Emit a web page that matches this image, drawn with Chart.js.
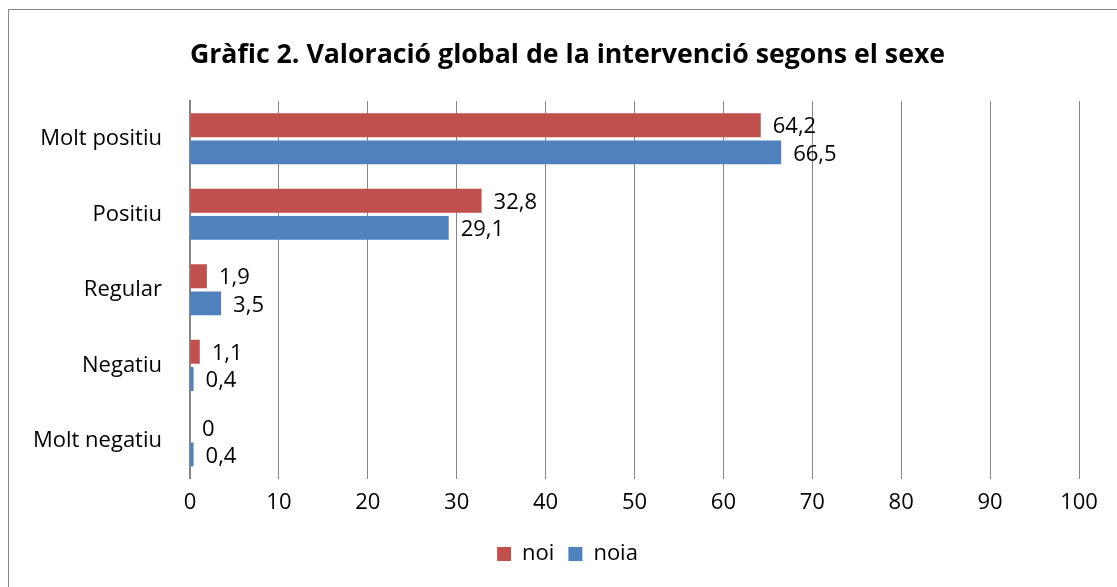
<html lang="ca">
<head>
  <meta charset="UTF-8">
  <title>Gràfic 2</title>
  <script src="https://cdn.jsdelivr.net/npm/chart.js"></script>
  <style>
    body, html {
      margin: 0;
      padding: 0;
      background-color: #ffffff;
      overflow: hidden;
    }
    .frame {
      position: absolute;
      left: 8px;
      top: 9px;
      width: 1200px;
      height: 700px;
      border: 1px solid #868686;
    }
    .chart-container {
      position: absolute;
      left: 0;
      top: 0;
      width: 1117px;
      height: 587px;
    }
  </style>
</head>
<body>
  <div class="frame"></div>
  <div class="chart-container"><canvas id="myChart" width="1117" height="587"></canvas></div>

  <script>
    const categories = ['Molt positiu', 'Positiu', 'Regular', 'Negatiu', 'Molt negatiu'];
    const noiData = [64.2, 32.8, 1.9, 1.1, 0];
    const noiaData = [66.5, 29.1, 3.5, 0.4, 0.4];
    const xTicks = [0, 10, 20, 30, 40, 50, 60, 70, 80, 90, 100];

    const fontFamily = '"Open Sans", "Noto Sans", sans-serif';
    const gridColor = '#868686';

    // value labels to the right of each bar, with a decimal comma
    Chart.register({
      id: 'barValues',
      afterDatasetsDraw(chart) {
        const { ctx } = chart;
        ctx.save();
        ctx.fillStyle = '#000';
        ctx.font = '22px ' + fontFamily;
        ctx.textAlign = 'left';
        ctx.textBaseline = 'middle';
        chart.data.datasets.forEach((dataset, i) => {
          const meta = chart.getDatasetMeta(i);
          meta.data.forEach((bar, j) => {
            const txt = String(dataset.data[j]).replace('.', ',');
            ctx.fillText(txt, bar.x + 12, bar.y + 2);
          });
        });
        ctx.restore();
      }
    });

    // title and legend sit centred on the frame, not on the whole canvas
    Chart.register({
      id: 'shiftBlocks',
      afterLayout(chart) {
        const dx = 28;
        if (chart.titleBlock) {
          chart.titleBlock.left += dx;
          chart.titleBlock.right += dx;
        }
        if (chart.legend) {
          chart.legend.left += dx;
          chart.legend.right += dx;
          chart.legend.top += 2;
          chart.legend.bottom += 2;
        }
      }
    });

    const ctx = document.getElementById('myChart').getContext('2d');
    const myChart = new Chart(ctx, {
      type: 'bar',
      data: {
        labels: categories,
        datasets: [
          {
            label: 'noi',
            data: noiData,
            backgroundColor: '#C0504D',
            borderWidth: 0
          },
          {
            label: 'noia',
            data: noiaData,
            backgroundColor: '#4F81BD',
            borderWidth: 0
          }
        ]
      },
      options: {
        indexAxis: 'y',
        responsive: false,
        animation: false,
        categoryPercentage: 0.72,
        barPercentage: 0.88,
        layout: {
          padding: { left: 0, right: 38, top: 0, bottom: 14 }
        },
        scales: {
          x: {
            min: 0,
            max: 100,
            afterBuildTicks(scale) {
              scale.ticks = xTicks.map(v => ({ value: v }));
            },
            grid: {
              color: gridColor,
              drawTicks: false
            },
            border: { display: false },
            ticks: {
              color: '#000',
              padding: 11,
              font: { family: fontFamily, size: 22 }
            }
          },
          y: {
            afterFit(scale) {
              scale.width = 190;
            },
            grid: { display: false },
            border: { display: true, color: gridColor, width: 2 },
            ticks: {
              color: '#000',
              padding: 20,
              font: { family: fontFamily, size: 22 }
            }
          }
        },
        plugins: {
          title: {
            display: true,
            text: 'Gràfic 2. Valoració global de la intervenció segons el sexe',
            color: '#000',
            font: { family: fontFamily, size: 26.7, weight: 'bold' },
            padding: { top: 39, bottom: 30 }
          },
          legend: {
            display: true,
            position: 'bottom',
            labels: {
              color: '#000',
              boxWidth: 14,
              boxHeight: 14,
              padding: 14,
              font: { family: fontFamily, size: 22 }
            }
          },
          tooltip: { enabled: false }
        }
      }
    });
  </script>
</body>
</html>
